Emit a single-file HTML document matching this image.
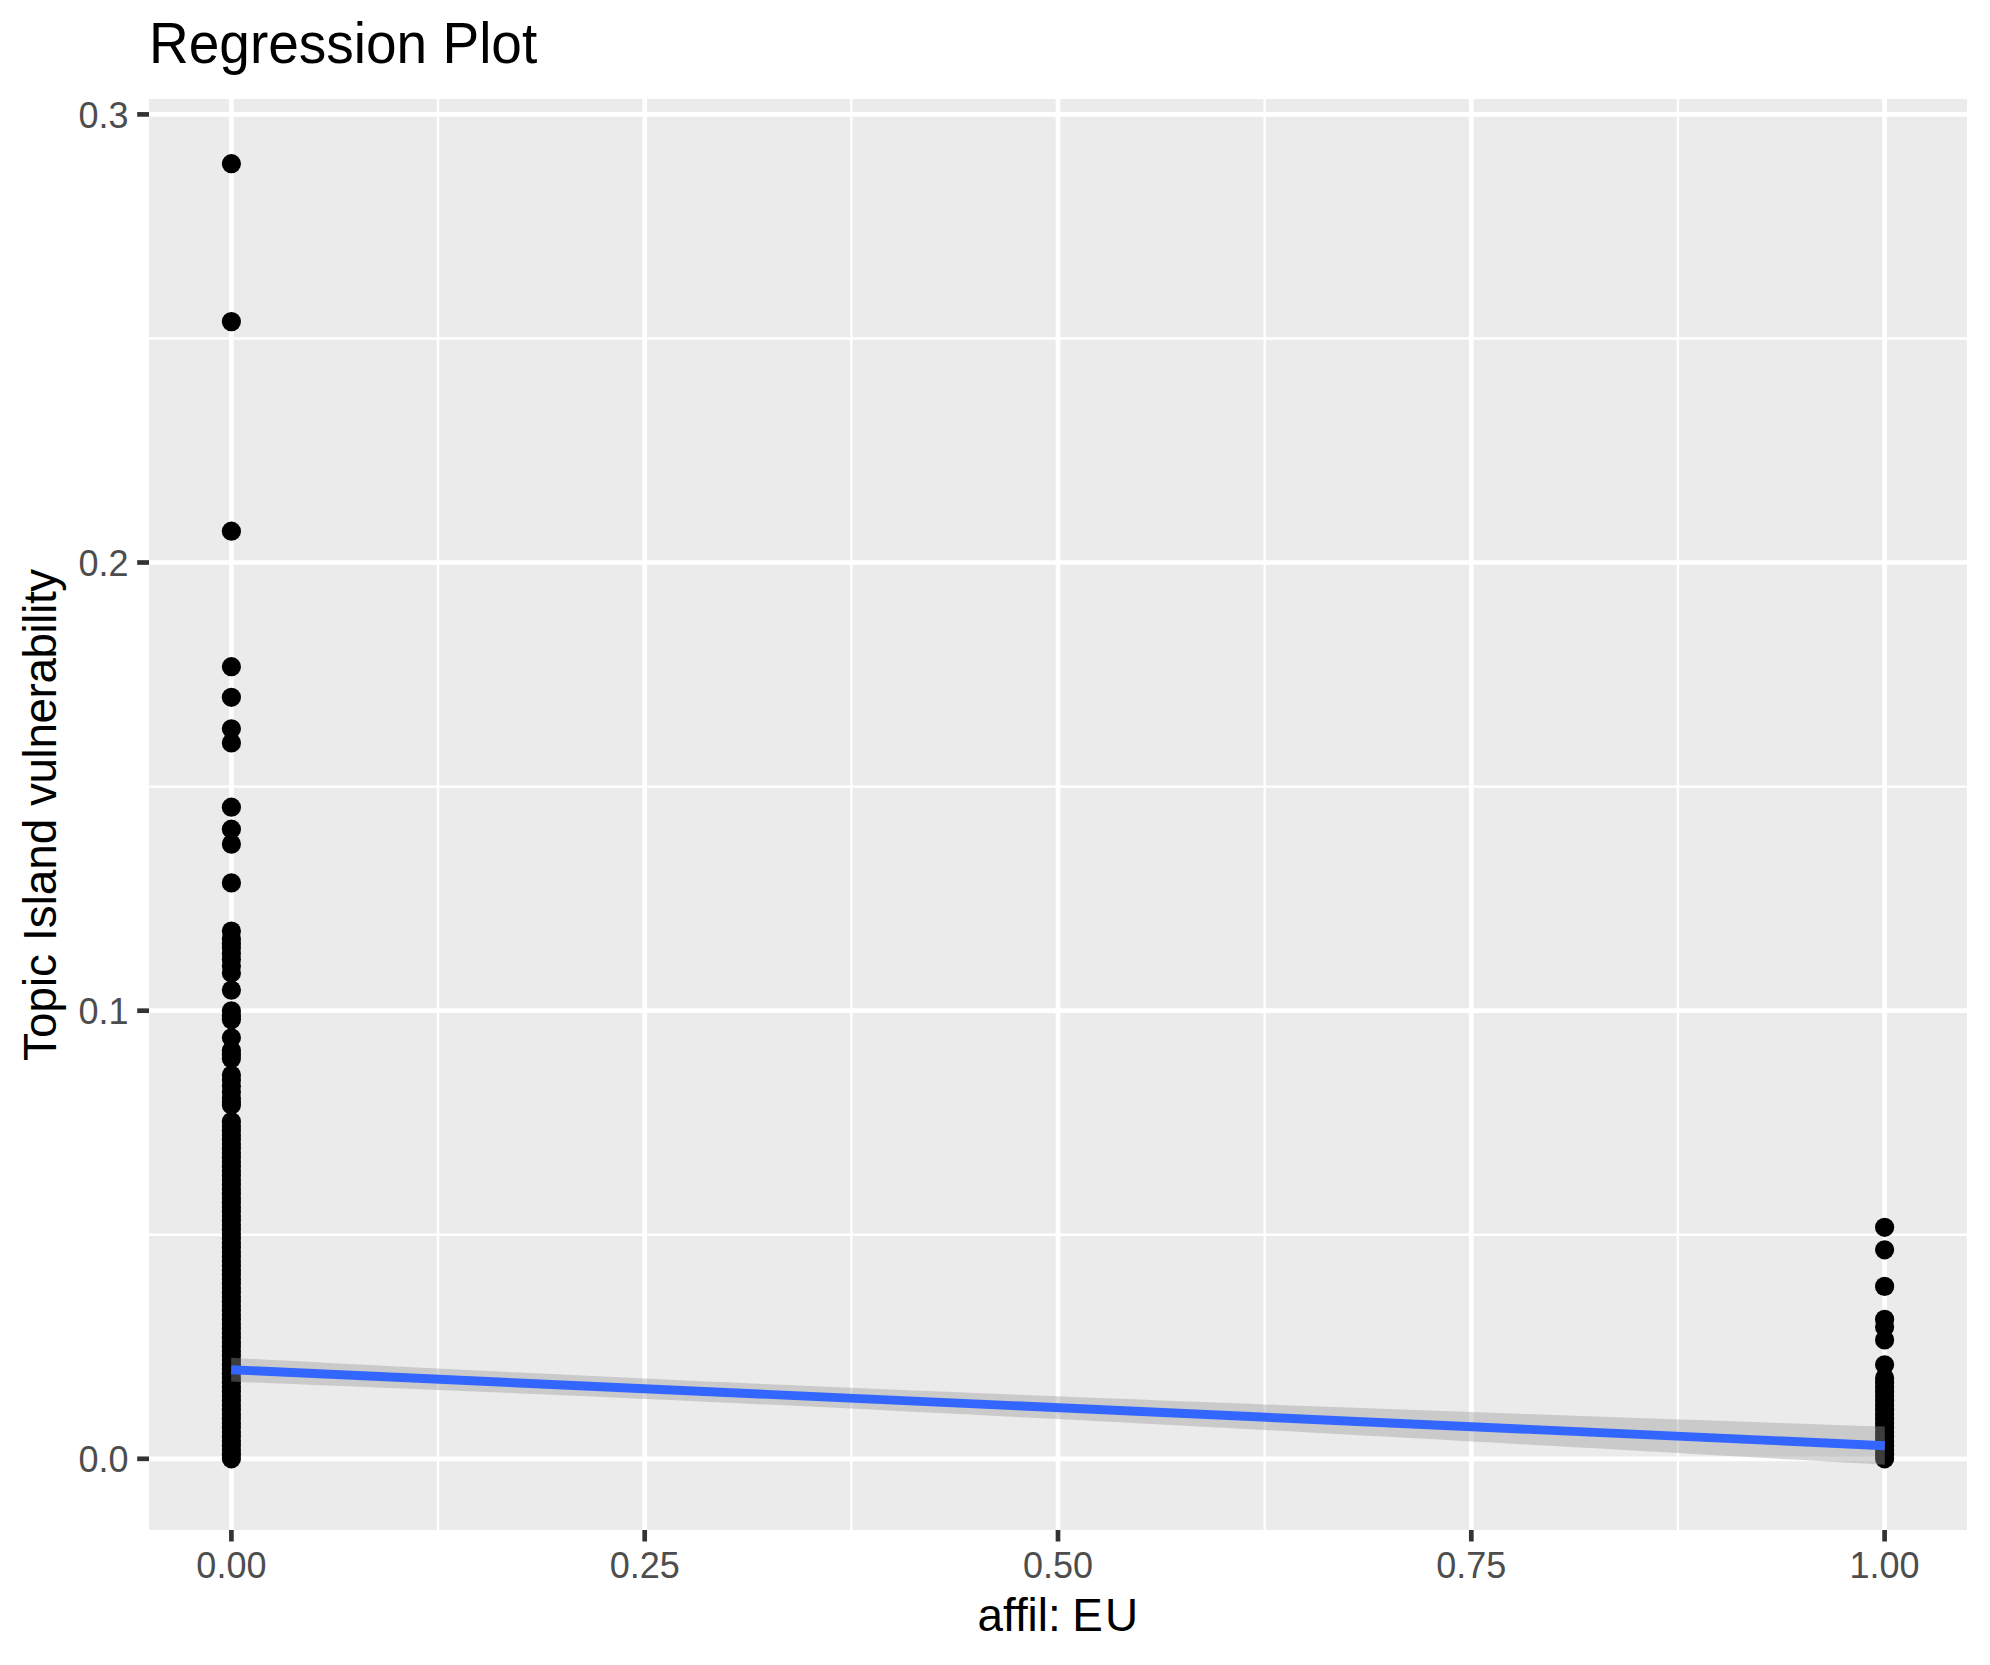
<!DOCTYPE html>
<html lang="en"><head><meta charset="utf-8"><title>Regression Plot</title>
<style>html,body{margin:0;padding:0;background:#fff}body{width:1990px;height:1665px;overflow:hidden}svg{display:block}text{font-family:"Liberation Sans",Arial,Helvetica,sans-serif;font-variant-ligatures:none;font-feature-settings:"liga" 0,"clig" 0}</style></head><body>
<svg width="1990" height="1665" viewBox="0 0 1990 1665">
<rect x="0" y="0" width="1990" height="1665" fill="#ffffff"/>
<rect x="149.0" y="99.0" width="1818.0" height="1431.0" fill="#ebebeb"/>
<g stroke="#ffffff" stroke-width="2.4" fill="none">
<line x1="438.0" y1="99.0" x2="438.0" y2="1530.0"/>
<line x1="851.3" y1="99.0" x2="851.3" y2="1530.0"/>
<line x1="1264.7" y1="99.0" x2="1264.7" y2="1530.0"/>
<line x1="1677.9" y1="99.0" x2="1677.9" y2="1530.0"/>
<line x1="149.0" y1="1234.7" x2="1967.0" y2="1234.7"/>
<line x1="149.0" y1="786.6" x2="1967.0" y2="786.6"/>
<line x1="149.0" y1="338.5" x2="1967.0" y2="338.5"/>
</g>
<g stroke="#ffffff" stroke-width="4.7" fill="none">
<line x1="231.4" y1="99.0" x2="231.4" y2="1530.0"/>
<line x1="644.7" y1="99.0" x2="644.7" y2="1530.0"/>
<line x1="1058.0" y1="99.0" x2="1058.0" y2="1530.0"/>
<line x1="1471.3" y1="99.0" x2="1471.3" y2="1530.0"/>
<line x1="1884.6" y1="99.0" x2="1884.6" y2="1530.0"/>
<line x1="149.0" y1="1458.8" x2="1967.0" y2="1458.8"/>
<line x1="149.0" y1="1010.7" x2="1967.0" y2="1010.7"/>
<line x1="149.0" y1="562.5" x2="1967.0" y2="562.5"/>
<line x1="149.0" y1="114.4" x2="1967.0" y2="114.4"/>
</g>
<g fill="#000000">
<circle cx="231.4" cy="163.7" r="9.60"/>
<circle cx="231.4" cy="321.6" r="9.60"/>
<circle cx="231.4" cy="531.2" r="9.60"/>
<circle cx="231.4" cy="666.7" r="9.60"/>
<circle cx="231.4" cy="697.3" r="9.60"/>
<circle cx="231.4" cy="728.8" r="9.60"/>
<circle cx="231.4" cy="742.9" r="9.60"/>
<circle cx="231.4" cy="807.2" r="9.60"/>
<circle cx="231.4" cy="829.2" r="9.60"/>
<circle cx="231.4" cy="844.1" r="9.60"/>
<circle cx="231.4" cy="882.9" r="9.60"/>
<circle cx="231.4" cy="931.0" r="9.60"/>
<circle cx="231.4" cy="938.7" r="9.60"/>
<circle cx="231.4" cy="943.5" r="9.60"/>
<circle cx="231.4" cy="947.7" r="9.60"/>
<circle cx="231.4" cy="953.5" r="9.60"/>
<circle cx="231.4" cy="959.5" r="9.60"/>
<circle cx="231.4" cy="966.0" r="9.60"/>
<circle cx="231.4" cy="973.0" r="9.60"/>
<circle cx="231.4" cy="990.1" r="9.60"/>
<circle cx="231.4" cy="1010.8" r="9.60"/>
<circle cx="231.4" cy="1015.5" r="9.60"/>
<circle cx="231.4" cy="1019.8" r="9.60"/>
<circle cx="231.4" cy="1037.8" r="9.60"/>
<circle cx="231.4" cy="1050.5" r="9.60"/>
<circle cx="231.4" cy="1054.5" r="9.60"/>
<circle cx="231.4" cy="1058.6" r="9.60"/>
<circle cx="231.4" cy="1075.0" r="9.60"/>
<circle cx="231.4" cy="1080.0" r="9.60"/>
<circle cx="231.4" cy="1086.0" r="9.60"/>
<circle cx="231.4" cy="1092.0" r="9.60"/>
<circle cx="231.4" cy="1098.0" r="9.60"/>
<circle cx="231.4" cy="1102.0" r="9.60"/>
<circle cx="231.4" cy="1105.0" r="9.60"/>
<circle cx="231.4" cy="1121.6" r="9.60"/>
<circle cx="231.4" cy="1126.1" r="9.60"/>
<circle cx="231.4" cy="1130.6" r="9.60"/>
<circle cx="231.4" cy="1135.1" r="9.60"/>
<circle cx="231.4" cy="1139.6" r="9.60"/>
<circle cx="231.4" cy="1144.1" r="9.60"/>
<circle cx="231.4" cy="1148.6" r="9.60"/>
<circle cx="231.4" cy="1153.1" r="9.60"/>
<circle cx="231.4" cy="1157.6" r="9.60"/>
<circle cx="231.4" cy="1162.1" r="9.60"/>
<circle cx="231.4" cy="1166.6" r="9.60"/>
<circle cx="231.4" cy="1171.1" r="9.60"/>
<circle cx="231.4" cy="1175.6" r="9.60"/>
<circle cx="231.4" cy="1180.1" r="9.60"/>
<circle cx="231.4" cy="1184.6" r="9.60"/>
<circle cx="231.4" cy="1189.1" r="9.60"/>
<circle cx="231.4" cy="1193.6" r="9.60"/>
<circle cx="231.4" cy="1198.1" r="9.60"/>
<circle cx="231.4" cy="1202.6" r="9.60"/>
<circle cx="231.4" cy="1207.1" r="9.60"/>
<circle cx="231.4" cy="1211.6" r="9.60"/>
<circle cx="231.4" cy="1216.1" r="9.60"/>
<circle cx="231.4" cy="1220.6" r="9.60"/>
<circle cx="231.4" cy="1225.1" r="9.60"/>
<circle cx="231.4" cy="1229.6" r="9.60"/>
<circle cx="231.4" cy="1234.1" r="9.60"/>
<circle cx="231.4" cy="1238.6" r="9.60"/>
<circle cx="231.4" cy="1243.1" r="9.60"/>
<circle cx="231.4" cy="1247.6" r="9.60"/>
<circle cx="231.4" cy="1252.1" r="9.60"/>
<circle cx="231.4" cy="1256.6" r="9.60"/>
<circle cx="231.4" cy="1261.1" r="9.60"/>
<circle cx="231.4" cy="1265.6" r="9.60"/>
<circle cx="231.4" cy="1270.1" r="9.60"/>
<circle cx="231.4" cy="1274.6" r="9.60"/>
<circle cx="231.4" cy="1279.1" r="9.60"/>
<circle cx="231.4" cy="1283.6" r="9.60"/>
<circle cx="231.4" cy="1288.1" r="9.60"/>
<circle cx="231.4" cy="1292.6" r="9.60"/>
<circle cx="231.4" cy="1297.1" r="9.60"/>
<circle cx="231.4" cy="1301.6" r="9.60"/>
<circle cx="231.4" cy="1306.1" r="9.60"/>
<circle cx="231.4" cy="1310.6" r="9.60"/>
<circle cx="231.4" cy="1315.1" r="9.60"/>
<circle cx="231.4" cy="1319.6" r="9.60"/>
<circle cx="231.4" cy="1324.1" r="9.60"/>
<circle cx="231.4" cy="1328.6" r="9.60"/>
<circle cx="231.4" cy="1333.1" r="9.60"/>
<circle cx="231.4" cy="1337.6" r="9.60"/>
<circle cx="231.4" cy="1342.1" r="9.60"/>
<circle cx="231.4" cy="1346.6" r="9.60"/>
<circle cx="231.4" cy="1351.1" r="9.60"/>
<circle cx="231.4" cy="1355.6" r="9.60"/>
<circle cx="231.4" cy="1360.1" r="9.60"/>
<circle cx="231.4" cy="1364.6" r="9.60"/>
<circle cx="231.4" cy="1369.1" r="9.60"/>
<circle cx="231.4" cy="1373.6" r="9.60"/>
<circle cx="231.4" cy="1378.1" r="9.60"/>
<circle cx="231.4" cy="1382.6" r="9.60"/>
<circle cx="231.4" cy="1387.1" r="9.60"/>
<circle cx="231.4" cy="1391.6" r="9.60"/>
<circle cx="231.4" cy="1396.1" r="9.60"/>
<circle cx="231.4" cy="1400.6" r="9.60"/>
<circle cx="231.4" cy="1405.1" r="9.60"/>
<circle cx="231.4" cy="1409.6" r="9.60"/>
<circle cx="231.4" cy="1414.1" r="9.60"/>
<circle cx="231.4" cy="1418.6" r="9.60"/>
<circle cx="231.4" cy="1423.1" r="9.60"/>
<circle cx="231.4" cy="1427.6" r="9.60"/>
<circle cx="231.4" cy="1432.1" r="9.60"/>
<circle cx="231.4" cy="1436.6" r="9.60"/>
<circle cx="231.4" cy="1441.1" r="9.60"/>
<circle cx="231.4" cy="1445.6" r="9.60"/>
<circle cx="231.4" cy="1450.1" r="9.60"/>
<circle cx="231.4" cy="1454.6" r="9.60"/>
<circle cx="231.4" cy="1458.8" r="9.60"/>
<circle cx="1884.6" cy="1227.3" r="9.60"/>
<circle cx="1884.6" cy="1249.8" r="9.60"/>
<circle cx="1884.6" cy="1286.4" r="9.60"/>
<circle cx="1884.6" cy="1319.4" r="9.60"/>
<circle cx="1884.6" cy="1327.0" r="9.60"/>
<circle cx="1884.6" cy="1339.9" r="9.60"/>
<circle cx="1884.6" cy="1364.8" r="9.60"/>
<circle cx="1884.6" cy="1378.0" r="9.60"/>
<circle cx="1884.6" cy="1382.5" r="9.60"/>
<circle cx="1884.6" cy="1387.0" r="9.60"/>
<circle cx="1884.6" cy="1391.5" r="9.60"/>
<circle cx="1884.6" cy="1396.0" r="9.60"/>
<circle cx="1884.6" cy="1400.5" r="9.60"/>
<circle cx="1884.6" cy="1405.0" r="9.60"/>
<circle cx="1884.6" cy="1409.5" r="9.60"/>
<circle cx="1884.6" cy="1414.0" r="9.60"/>
<circle cx="1884.6" cy="1418.5" r="9.60"/>
<circle cx="1884.6" cy="1423.0" r="9.60"/>
<circle cx="1884.6" cy="1427.5" r="9.60"/>
<circle cx="1884.6" cy="1432.0" r="9.60"/>
<circle cx="1884.6" cy="1436.5" r="9.60"/>
<circle cx="1884.6" cy="1441.0" r="9.60"/>
<circle cx="1884.6" cy="1445.5" r="9.60"/>
<circle cx="1884.6" cy="1450.0" r="9.60"/>
<circle cx="1884.6" cy="1454.5" r="9.60"/>
<circle cx="1884.6" cy="1458.8" r="9.60"/>
</g>
<polygon fill="#999999" fill-opacity="0.4" points="231.2,1357.8 251.9,1358.9 272.5,1360.0 293.2,1361.1 313.9,1362.1 334.5,1363.2 355.2,1364.3 375.9,1365.3 396.6,1366.4 417.2,1367.4 437.9,1368.5 458.6,1369.5 479.2,1370.5 499.9,1371.6 520.6,1372.6 541.2,1373.6 561.9,1374.6 582.6,1375.6 603.3,1376.5 623.9,1377.5 644.6,1378.5 665.3,1379.5 685.9,1380.4 706.6,1381.4 727.3,1382.3 748.0,1383.2 768.6,1384.2 789.3,1385.1 810.0,1386.0 830.6,1386.9 851.3,1387.8 872.0,1388.7 892.6,1389.5 913.3,1390.4 934.0,1391.3 954.6,1392.1 975.3,1393.0 996.0,1393.8 1016.7,1394.7 1037.3,1395.5 1058.0,1396.3 1078.7,1397.2 1099.3,1398.0 1120.0,1398.8 1140.7,1399.6 1161.3,1400.4 1182.0,1401.2 1202.7,1402.0 1223.4,1402.8 1244.0,1403.6 1264.7,1404.4 1285.4,1405.2 1306.0,1405.9 1326.7,1406.7 1347.4,1407.5 1368.0,1408.2 1388.7,1409.0 1409.4,1409.8 1430.1,1410.5 1450.7,1411.3 1471.4,1412.0 1492.1,1412.8 1512.7,1413.5 1533.4,1414.2 1554.1,1415.0 1574.8,1415.7 1595.4,1416.5 1616.1,1417.2 1636.8,1417.9 1657.4,1418.7 1678.1,1419.4 1698.8,1420.1 1719.4,1420.8 1740.1,1421.6 1760.8,1422.3 1781.5,1423.0 1802.1,1423.7 1822.8,1424.5 1843.5,1425.2 1864.1,1425.9 1884.8,1426.6 1884.8,1464.8 1864.1,1463.6 1843.5,1462.4 1822.8,1461.2 1802.1,1460.1 1781.5,1458.9 1760.8,1457.7 1740.1,1456.5 1719.4,1455.4 1698.8,1454.2 1678.1,1453.0 1657.4,1451.8 1636.8,1450.7 1616.1,1449.5 1595.4,1448.3 1574.8,1447.2 1554.1,1446.0 1533.4,1444.9 1512.7,1443.7 1492.1,1442.5 1471.4,1441.4 1450.7,1440.2 1430.1,1439.1 1409.4,1437.9 1388.7,1436.8 1368.0,1435.7 1347.4,1434.5 1326.7,1433.4 1306.0,1432.3 1285.4,1431.1 1264.7,1430.0 1244.0,1428.9 1223.4,1427.8 1202.7,1426.7 1182.0,1425.6 1161.3,1424.5 1140.7,1423.4 1120.0,1422.3 1099.3,1421.2 1078.7,1420.1 1058.0,1419.1 1037.3,1418.0 1016.7,1416.9 996.0,1415.9 975.3,1414.8 954.6,1413.8 934.0,1412.7 913.3,1411.7 892.6,1410.7 872.0,1409.6 851.3,1408.6 830.6,1407.6 810.0,1406.6 789.3,1405.6 768.6,1404.6 748.0,1403.7 727.3,1402.7 706.6,1401.7 685.9,1400.8 665.3,1399.8 644.6,1398.9 623.9,1398.0 603.3,1397.1 582.6,1396.1 561.9,1395.2 541.2,1394.3 520.6,1393.4 499.9,1392.5 479.2,1391.7 458.6,1390.8 437.9,1389.9 417.2,1389.1 396.6,1388.2 375.9,1387.4 355.2,1386.5 334.5,1385.7 313.9,1384.9 293.2,1384.0 272.5,1383.2 251.9,1382.4 231.2,1381.6"/>
<line x1="231.2" y1="1369.7" x2="1884.8" y2="1445.7" stroke="#3366ff" stroke-width="8.9"/>
<g stroke="#333333" stroke-width="4.7" fill="none">
<line x1="231.4" y1="1530.0" x2="231.4" y2="1541.5"/>
<line x1="644.7" y1="1530.0" x2="644.7" y2="1541.5"/>
<line x1="1058.0" y1="1530.0" x2="1058.0" y2="1541.5"/>
<line x1="1471.3" y1="1530.0" x2="1471.3" y2="1541.5"/>
<line x1="1884.6" y1="1530.0" x2="1884.6" y2="1541.5"/>
<line x1="137.2" y1="1458.8" x2="149.0" y2="1458.8"/>
<line x1="137.2" y1="1010.7" x2="149.0" y2="1010.7"/>
<line x1="137.2" y1="562.5" x2="149.0" y2="562.5"/>
<line x1="137.2" y1="114.4" x2="149.0" y2="114.4"/>
</g>
<g fill="#4d4d4d" font-size="36px">
<text transform="translate(231.4,1578.2) scale(1,1)" text-anchor="middle">0.00</text>
<text transform="translate(644.7,1578.2) scale(1,1)" text-anchor="middle">0.25</text>
<text transform="translate(1058.0,1578.2) scale(1,1)" text-anchor="middle">0.50</text>
<text transform="translate(1471.3,1578.2) scale(1,1)" text-anchor="middle">0.75</text>
<text transform="translate(1884.6,1578.2) scale(1,1)" text-anchor="middle">1.00</text>
<text transform="translate(128.5,1472.1) scale(1,1)" text-anchor="end">0.0</text>
<text transform="translate(128.5,1024.0) scale(1,1)" text-anchor="end">0.1</text>
<text transform="translate(128.5,575.8) scale(1,1)" text-anchor="end">0.2</text>
<text transform="translate(128.5,127.7) scale(1,1)" text-anchor="end">0.3</text>
</g>
<text transform="translate(977.5,1631.3) scale(1,1.02)" font-size="45.83px" fill="#000">affil: <tspan dx="-1.2" letter-spacing="2.2">EU</tspan></text>
<text transform="translate(56.3,0) rotate(-90) scale(1,1.02)" font-size="45.83px" fill="#000"><tspan x="-1061">Topic </tspan><tspan x="-941">Island </tspan><tspan x="-806" letter-spacing="-0.4">vulnerability</tspan></text>
<text transform="translate(149,62.8) scale(1,1.04)" font-size="55px" fill="#000">Regression Plot</text>
</svg></body></html>
